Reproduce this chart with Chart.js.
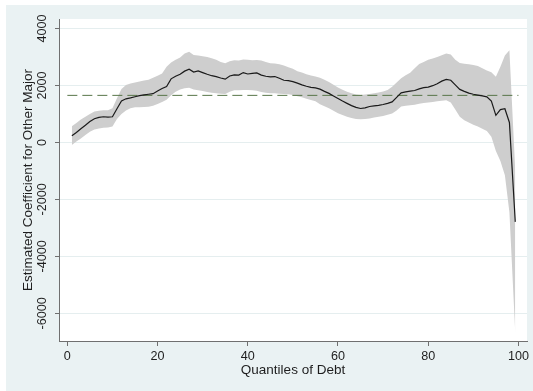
<!DOCTYPE html>
<html>
<head>
<meta charset="utf-8">
<script src="https://cdn.jsdelivr.net/npm/chart.js@4.4.1/dist/chart.umd.min.js"></script>
<style>
  html, body { margin: 0; padding: 0; background: #ffffff; }
  #wrap { width: 533px; height: 391px; }
</style>
</head>
<body>
<div id="wrap"><canvas id="c" width="533" height="391"></canvas></div>
<script>
// Quantile positions of the estimates
const quantiles = [
  1, 2, 3, 4, 5, 6, 7, 8, 9, 10,
  11, 12, 13, 14, 15, 16, 17, 18, 19, 20,
  21, 22, 23, 24, 25, 26, 27, 28, 29, 30,
  31, 32, 33, 34, 35, 36, 37, 38, 39, 40,
  41, 42, 43, 44, 45, 46, 47, 48, 49, 50,
  51, 52, 53, 54, 55, 56, 57, 58, 59, 60,
  61, 62, 63, 64, 65, 66, 67, 68, 69, 70,
  71, 72, 73, 74, 75, 76, 77, 78, 79, 80,
  81, 82, 83, 84, 85, 86, 87, 88, 89, 90,
  91, 92, 93, 94, 95, 96, 97, 98, 99.3
];

// Point estimate of the coefficient
const coefficient = [
  230, 350, 480, 600, 730, 830, 880, 900, 890, 900,
  1180, 1450, 1530, 1560, 1600, 1640, 1670, 1690, 1710, 1800,
  1890, 1960, 2230, 2320, 2390, 2500, 2570, 2470, 2510, 2450,
  2390, 2340, 2310, 2260, 2220, 2330, 2370, 2360, 2450, 2400,
  2420, 2440, 2360, 2320, 2300, 2310, 2250, 2180, 2170, 2130,
  2080, 2020, 1970, 1930, 1910, 1870, 1790, 1720, 1630, 1540,
  1450, 1370, 1290, 1230, 1190, 1210, 1260, 1280, 1300, 1330,
  1370, 1420, 1580, 1740, 1770, 1800, 1820, 1880, 1920, 1940,
  1990, 2060, 2150, 2210, 2180, 2020, 1860, 1790, 1730, 1690,
  1660, 1630, 1600, 1450, 950, 1150, 1180, 700, -2790
];

// Confidence interval bounds
const ciUpper = [
  570, 680, 800, 900, 1000, 1080, 1110, 1130, 1130, 1200,
  1550, 1870, 2010, 2070, 2100, 2140, 2170, 2200, 2270, 2340,
  2420, 2650, 2800, 2900, 2980, 3120, 3180, 3070, 3050, 3020,
  3000, 2950, 2900, 2820, 2780, 2850, 2880, 2870, 2910, 2900,
  2880, 2890, 2870, 2820, 2780, 2770, 2740, 2700, 2640, 2580,
  2500, 2450, 2390, 2350, 2310, 2270, 2200, 2120, 2020, 1930,
  1850, 1780, 1720, 1680, 1660, 1680, 1700, 1720, 1750, 1790,
  1840, 1950, 2100, 2250, 2360, 2440, 2600, 2750, 2820, 2900,
  2940, 3000, 3060, 3120, 3080, 2900, 2790, 2760, 2740, 2720,
  2680, 2600, 2520, 2460, 2300, 2650, 3050, 3230, -1000
];

const ciLower = [
  -90, 30, 140, 260, 370, 450, 490, 510, 520, 560,
  820, 1000, 1120, 1200, 1230, 1230, 1240, 1250, 1290, 1350,
  1420, 1500, 1650, 1780, 1860, 1900, 1920, 1860, 1830, 1800,
  1770, 1740, 1720, 1710, 1700, 1780, 1830, 1830, 1840, 1840,
  1830, 1810, 1770, 1740, 1720, 1720, 1710, 1700, 1690, 1660,
  1620, 1580, 1530, 1490, 1440, 1340, 1270, 1200, 1110, 1020,
  960, 900, 860, 820, 810, 820, 840, 870, 900, 930,
  970, 1010, 1120, 1260, 1290, 1300, 1320, 1360, 1380, 1400,
  1420, 1440, 1460, 1480, 1400, 1150, 900, 780, 700, 620,
  560, 480, 400, 200, -300, -650, -1150, -2450, -6690
];

// Horizontal reference line
const refValue = 1650;
const refSpan = [0, 100];

// Axis ticks
const xTicks = [0, 20, 40, 60, 80, 100];
const yTicks = [-6000, -4000, -2000, 0, 2000, 4000];

const toPoints = (xs, ys) => xs.map((x, i) => ({ x: x, y: ys[i] }));

const FONT = "'Liberation Sans', Arial, sans-serif";
const AXIS_GREY = '#707070';

// Backgrounds: outer graph region and white plot region
const backgroundPlugin = {
  id: 'backgrounds',
  beforeDraw(chart) {
    const { ctx, chartArea } = chart;
    ctx.save();
    ctx.fillStyle = '#ffffff';
    ctx.fillRect(0, 0, chart.width, chart.height);
    ctx.fillStyle = '#eaf2f3';
    ctx.fillRect(6, 5, chart.width - 6, chart.height - 5);
    ctx.fillStyle = '#ffffff';
    ctx.fillRect(chartArea.left, chartArea.top,
                 chartArea.right - chartArea.left, chartArea.bottom - chartArea.top);
    ctx.restore();
  }
};

// Vertical (rotated) labels on the y axis
const yTickLabelPlugin = {
  id: 'yTickLabels',
  afterDraw(chart) {
    const { ctx } = chart;
    const yScale = chart.scales.y;
    ctx.save();
    ctx.fillStyle = '#1e1e1e';
    ctx.font = '12.6px ' + FONT;
    ctx.textAlign = 'center';
    ctx.textBaseline = 'middle';
    yTicks.forEach(v => {
      const py = yScale.getPixelForValue(v);
      ctx.save();
      ctx.translate(43, py);
      ctx.rotate(-Math.PI / 2);
      ctx.fillText(String(v), 0, 0);
      ctx.restore();
    });
    ctx.restore();
  }
};

new Chart(document.getElementById('c'), {
  type: 'line',
  data: {
    datasets: [
      {
        label: 'coefficient',
        data: toPoints(quantiles, coefficient),
        borderColor: '#1a1a1a',
        borderWidth: 1.2,
        pointRadius: 0,
        tension: 0,
        fill: false,
        order: 0
      },
      {
        label: 'reference',
        data: refSpan.map(x => ({ x: x, y: refValue })),
        borderColor: '#587548',
        borderWidth: 1,
        borderDash: [10, 5],
        pointRadius: 0,
        fill: false,
        order: 1
      },
      {
        label: 'upper',
        data: toPoints(quantiles, ciUpper),
        borderColor: 'rgba(0,0,0,0)',
        borderWidth: 0,
        backgroundColor: '#cecece',
        pointRadius: 0,
        tension: 0,
        fill: '+1',
        order: 2
      },
      {
        label: 'lower',
        data: toPoints(quantiles, ciLower),
        borderColor: 'rgba(0,0,0,0)',
        borderWidth: 0,
        pointRadius: 0,
        tension: 0,
        fill: false,
        order: 3
      }
    ]
  },
  options: {
    responsive: false,
    animation: false,
    events: [],
    layout: { padding: { top: 19, right: 6, bottom: 0, left: 0 } },
    plugins: {
      legend: { display: false },
      tooltip: { enabled: false }
    },
    scales: {
      x: {
        type: 'linear',
        min: -1.85,
        max: 101.9,
        afterBuildTicks: scale => { scale.ticks = xTicks.map(v => ({ value: v })); },
        afterFit: scale => { scale.height = 50; },
        grid: {
          drawOnChartArea: false,
          drawTicks: true,
          tickLength: 5,
          tickColor: AXIS_GREY
        },
        border: { display: true, color: AXIS_GREY, width: 1 },
        ticks: {
          color: '#1e1e1e',
          font: { family: FONT, size: 12.6 },
          padding: 3,
          maxRotation: 0,
          autoSkip: false
        },
        title: {
          display: true,
          text: 'Quantiles of Debt',
          color: '#1e1e1e',
          font: { family: FONT, size: 13.5 },
          padding: { top: 0, bottom: 13 }
        }
      },
      y: {
        type: 'linear',
        min: -6970,
        max: 4330,
        afterBuildTicks: scale => { scale.ticks = yTicks.map(v => ({ value: v })); },
        afterFit: scale => { scale.width = 59; },
        grid: {
          color: '#e5eeef',
          lineWidth: 1,
          drawTicks: true,
          tickLength: 4,
          tickColor: AXIS_GREY
        },
        border: { display: true, color: AXIS_GREY, width: 1 },
        ticks: { display: false },
        title: {
          display: true,
          text: 'Estimated Coefficient for Other Major',
          color: '#1e1e1e',
          font: { family: FONT, size: 13.5 },
          padding: { top: 20, bottom: 0 }
        }
      }
    }
  },
  plugins: [backgroundPlugin, yTickLabelPlugin]
});
</script>
</body>
</html>
